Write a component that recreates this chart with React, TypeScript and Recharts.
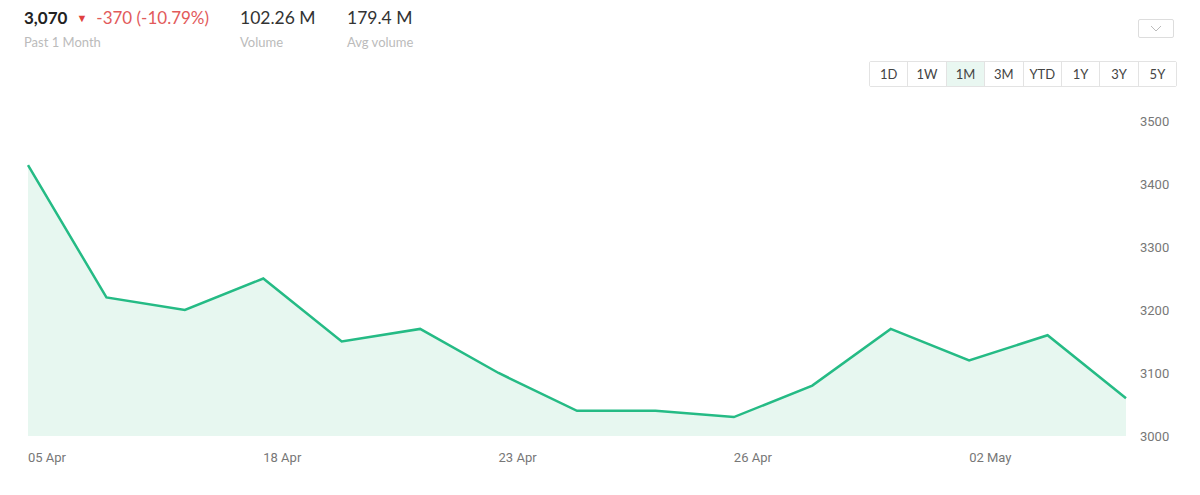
import { AreaChart, Area, XAxis, YAxis } from "recharts"

const dates = [
  "05 Apr", "15 Apr", "16 Apr", "18 Apr", "19 Apr", "22 Apr", "23 Apr", "24 Apr",
  "25 Apr", "26 Apr", "29 Apr", "30 Apr", "02 May", "03 May", "06 May",
]
const prices = [3430, 3220, 3200, 3250, 3150, 3170, 3100, 3040, 3040, 3030, 3080, 3170, 3120, 3160, 3060]
const xTicks = ["05 Apr", "18 Apr", "23 Apr", "26 Apr", "02 May"]
const yTicks = [3000, 3100, 3200, 3300, 3400, 3500]
const ranges = ["1D", "1W", "1M", "3M", "YTD", "1Y", "3Y", "5Y"]

const chartData = dates.map((d, i) => ({ date: d, price: prices[i] }))

const XTick = (props: any) => {
  const { x, y, payload } = props
  return (
    <text x={x} y={y + 1} dy="0.71em" textAnchor="start" fill="#777" fontSize={13} fontFamily="Roboto, sans-serif">
      {payload.value}
    </text>
  )
}

export default function App() {
  const head = { fontFamily: "Lato, 'Open Sans', sans-serif" }
  return (
    <div style={{ position: "absolute", left: 0, top: 0, width: 1200, height: 495, background: "#fff", overflow: "hidden", ...head }}>
      <div style={{ position: "absolute", left: 24, top: 7, fontSize: 17, color: "#222", fontWeight: 700 }}>
        3,070
        <span style={{ color: "#e0403f", fontWeight: 400, fontSize: 11, marginLeft: 9, position: "relative", top: -2 }}>▼</span>
        <span style={{ color: "#e25a5a", fontWeight: 400, marginLeft: 9 }}>-370 (-10.79%)</span>
      </div>
      <div style={{ position: "absolute", left: 24, top: 34, fontSize: 13, color: "#bbb" }}>Past 1 Month</div>
      <div style={{ position: "absolute", left: 240, top: 7, fontSize: 17.5, color: "#333" }}>102.26 M</div>
      <div style={{ position: "absolute", left: 240, top: 34, fontSize: 13, color: "#bbb" }}>Volume</div>
      <div style={{ position: "absolute", left: 347, top: 7, fontSize: 17.5, color: "#333" }}>179.4 M</div>
      <div style={{ position: "absolute", left: 347, top: 34, fontSize: 13, color: "#bbb" }}>Avg volume</div>

      <div style={{ position: "absolute", left: 1138, top: 19, width: 36, height: 19, border: "1px solid #ddd", borderRadius: 2, boxSizing: "border-box", display: "flex", alignItems: "center", justifyContent: "center" }}>
        <svg width="12" height="7"><polyline points="1,1 6,6 11,1" fill="none" stroke="#bbb" strokeWidth="1" /></svg>
      </div>

      <div style={{ position: "absolute", left: 869, top: 61, display: "flex", border: "1px solid #e3e3e3", borderRadius: 2 }}>
        {ranges.map((r, i) => (
          <div
            key={r}
            style={{
              width: 37.4,
              height: 24,
              lineHeight: "24px",
              textAlign: "center",
              fontSize: 13,
              color: "#444",
              background: r === "1M" ? "#e9f7f1" : "#fff",
              borderLeft: i === 0 ? "none" : "1px solid #e3e3e3",
            }}
          >
            {r}
          </div>
        ))}
      </div>

      <div style={{ position: "absolute", left: 0, top: 0 }}>
        <AreaChart width={1200} height={495} data={chartData} margin={{ top: 121, right: 0, left: 28, bottom: 0 }}>
          <XAxis
            dataKey="date"
            ticks={xTicks}
            interval={0}
            axisLine={false}
            tickLine={false}
            tick={<XTick />}
            tickMargin={10}
            height={59}
          />
          <YAxis
            orientation="right"
            domain={[3000, 3500]}
            ticks={yTicks}
            axisLine={false}
            tickLine={false}
            width={74}
            tickMargin={8}
            tick={{ fill: "#777", fontSize: 13, fontFamily: "Roboto, sans-serif", textAnchor: "start" }}
          />
          <Area
            type="linear"
            dataKey="price"
            stroke="#25bb85"
            strokeWidth={2.5}
            fill="#e7f7f0"
            fillOpacity={1}
            dot={false}
            activeDot={false}
            isAnimationActive={false}
          />
        </AreaChart>
      </div>
    </div>
  )
}
